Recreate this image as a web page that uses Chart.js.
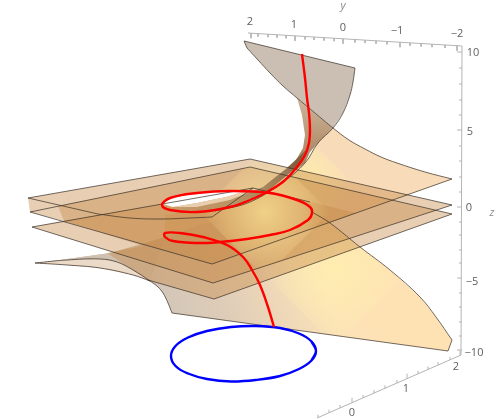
<!DOCTYPE html>
<html>
<head>
<meta charset="utf-8">
<style>
  html, body { margin: 0; padding: 0; background: #fff; }
  canvas { display: block; }
</style>
<script src="https://cdn.jsdelivr.net/npm/chart.js@4"></script>
</head>
<body>
<canvas id="chart" width="501" height="419"></canvas>
<script>
// outlines, in projected picture units
const surfaceBack = [[244,41],[355,68],[353,82],[350,95],[343,113],[333,128],[315,113],[297,98],[283,86],[270,73],[258,60],[247,48]];
const surfaceNeck = [[297,98],[315,113],[333,128],[318,143],[310,152],[305,163],[297,170],[287,168],[296,160],[303,148],[305,135],[302,115]];
const surfaceUpper = [[333,128],[349,140],[365,149],[381,157],[397,163],[425,172],[452,179],[365,210],[300,234],[250,252],[212,264],[190,258],[165,240],[165,215],[250,202],[283,182],[305,163],[318,143]];
const surfaceLower = [[452,340],[436,317],[420,297],[390,270],[360,247],[330,223],[312,212],[300,200],[230,215],[165,237],[110,253],[60,260],[35,263],[67,265],[100,268],[133,275],[150,281],[158,287],[163,293],[168,303],[172,313],[448,351]];
const lobeLight = [[35,263],[60,260],[100,259],[117,262],[133,270],[150,281],[133,275],[100,268],[67,265]];
const lobeTan = [[35,263],[60,260],[110,253],[150,243],[165,237],[150,281],[141,275],[133,270],[117,262],[100,259],[67,260]];
const planeOne = [[28,198],[250,159],[452,205],[213,283],[32,227],[64,221],[30,212]];
const planeTwo = [[58,206],[250,167],[452,214],[214,299],[148,280],[107,253],[143,246],[64,221]];
const planeThree = [[64,221],[253,188],[356,213],[212,264]];
const holeSliver = [[163,204],[172,198],[197,193],[230,191],[246,191],[226,197],[197,203],[173,207]];
const holeLight = [[173,207],[197,203],[226,197],[246,191],[263,187],[230,200],[197,207]];
const band = [[306,150],[297,167],[267,192],[230,207],[197,212],[170,210],[173,207],[197,207],[230,200],[263,187],[287,168]];
const glowUpper = [[300,130],[355,185],[300,240],[245,185]];
const glowLower = [[335,195],[410,270],[335,345],[260,270]];
const glowCentre = [[265,147],[330,212],[265,277],[200,212]];

const edgeTopLeft = [[28,198],[250,159],[452,205]];
const edgeMidBack = [[30,212],[250,167],[452,214]];
const edgeLowBack = [[32,227],[253,188],[310,202]];
const edgeInner = [[28,198],[98,214]];
const edgeInnerCurve = [[98,214],[130,218],[160,219],[190,218],[212,217]];
const edgeInnerRise = [[212,217],[253,188]];
const edgeFrontOne = [[30,212],[212,264],[452,179]];
const edgeFrontTwo = [[32,227],[213,283],[452,205]];
const edgeFrontThree = [[148,280],[214,299],[452,214]];
const edgeUpperCurve = [[247,48],[258,60],[270,73],[283,86],[297,98],[315,113],[333,128],[349,140],[365,149],[381,157],[397,163],[425,172],[452,179]];
const edgeUpperTip = [[244,41],[247,48]];
const edgeBackTop = [[244,41],[355,68]];
const edgeBackRight = [[355,68],[353,82],[350,95],[343,113],[333,128],[318,143],[305,163],[283,182],[250,202],[215,211]];
const edgeLowerRight = [[312,212],[330,223],[360,247],[390,270],[420,297],[436,317],[452,340]];
const edgeLowerBase = [[452,340],[448,351],[172,313]];
const edgeLobeUpper = [[172,313],[168,303],[163,293],[158,287],[150,281],[133,270],[117,262],[100,259],[67,260],[35,263]];
const edgeLobeLower = [[35,263],[67,265],[100,268],[133,275],[150,281]];

const redCurve = [[302,54],[305,78],[307,98],[309,113],[310,130],[309,143],[305,155],[297,167],[284,181],[267,192],[250,200],[230,207],[197,212],[170,210],[162,205],[170,198],[197,193],[230,191],[270,193],[297,200],[310,207],[312,213],[308,220],[290,230],[270,235],[247,239],[220,242],[197,243],[173,241],[165,237],[165,233],[180,233],[203,237],[227,245],[243,257],[252,270],[260,285],[268,307],[274,327]];
const blueCurve = [[311.5,360.5],[316,351],[311.5,341.5],[299,333.5],[280,328],[256,326],[231,327],[207,331],[188,337.5],[175.5,346],[171,356],[175.5,366],[188,373.5],[207,379],[231,381.5],[256,380],[280,376],[299,369],[311.5,360.5],[316,351],[311.5,341.5]];

// axes
const topAxis = [[248,33],[462,46]];
const rightAxis = [[462,46],[461,355]];
const bottomAxis = [[461,355],[317,418]];
const topMajorX = [251,295,343,400,457];
const topMinorX = [258,268,277,286,305,314,324,334,355,365,376,387,410,421,432,445];
const rightMajorY = [52,130,207,278,350];
const rightMinorY = [68,84,100,115,146,161,177,192,222,235,250,263,293,307,322,336];
const bottomMajorX = [460,407,352];
const bottomMinorX = [450,438,428,418,397,385,374,363,340,329,318];

const topLabels = [['2',250,22],['1',294,25],['0',343,28],['\u22121',397,31],['\u22122',457,34]];
const rightLabels = [['10',473,53],['5',470,132],['0',469,208],['\u22125',472,282],['\u221210',474,353]];
const bottomLabels = [['2',456,367],['1',406,389],['0',352,413]];
const axisNames = [['y',343,6],['z',492,213]];

const toPoints = (list) => list.map(([x, y]) => ({ x, y }));

function axisY(axis, x) {
  const [[x0, y0], [x1, y1]] = axis;
  return y0 + (x - x0) * (y1 - y0) / (x1 - x0);
}

function tickMarks(axis, majors, minors, horizontal, direction) {
  const points = [];
  const add = (pos, len) => {
    if (horizontal) {
      const y = axisY(axis, pos);
      points.push({ x: pos, y }, { x: pos, y: y + direction * len }, { x: NaN, y: NaN });
    } else {
      points.push({ x: axis[0][0], y: pos }, { x: axis[0][0] + direction * len, y: pos }, { x: NaN, y: NaN });
    }
  };
  majors.forEach((pos) => add(pos, 5));
  minors.forEach((pos) => add(pos, 3));
  return points;
}

function linear(ctx, x0, y0, x1, y1, stops) {
  const g = ctx.createLinearGradient(x0, y0, x1, y1);
  stops.forEach(([at, color]) => g.addColorStop(at, color));
  return g;
}

function radial(ctx, x, y, r, stops) {
  const g = ctx.createRadialGradient(x, y, 0, x, y, r);
  stops.forEach(([at, color]) => g.addColorStop(at, color));
  return g;
}

const PLANE_FILL = 'rgba(197,135,67,0.4)';
const EDGE = 'rgba(60,50,40,0.72)';
const AXIS = '#b4b4b4';

function area(list, fill, clipList) {
  return { data: toPoints(list), polygon: fill, clipList, showLine: false, pointRadius: 0 };
}

function stroke(data, color, width, tension = 0) {
  return { data, borderColor: color, borderWidth: width, showLine: true, pointRadius: 0, tension, spanGaps: false };
}

const layers = [
  stroke(toPoints(topAxis), AXIS, 1),
  stroke(toPoints(rightAxis), AXIS, 1),
  stroke(toPoints(bottomAxis), AXIS, 1),
  stroke(tickMarks(topAxis, topMajorX, topMinorX, true, 1), AXIS, 1),
  stroke(tickMarks(rightAxis, rightMajorY, rightMinorY, false, -1), AXIS, 1),
  stroke(tickMarks(bottomAxis, bottomMajorX, bottomMinorX, true, -1), AXIS, 1),
  area(surfaceBack, 'rgb(203,191,180)'),
  area(surfaceNeck, (ctx) => linear(ctx, 0, 100, 0, 170, [[0, 'rgb(205,180,155)'], [1, 'rgb(165,125,85)']])),
  area(surfaceUpper, 'rgb(248,220,185)'),
  area(glowUpper, (ctx) => radial(ctx, 300, 185, 55, [[0, 'rgba(255,238,170,1)'], [1, 'rgba(255,238,170,0)']]), surfaceUpper),
  area(surfaceLower, (ctx) => linear(ctx, 170, 345, 360, 270, [[0, 'rgb(209,197,184)'], [0.3, 'rgb(222,204,184)'], [0.8, 'rgb(252,226,184)'], [1, 'rgb(254,226,180)']])),
  area(glowLower, (ctx) => radial(ctx, 335, 270, 75, [[0, 'rgba(255,238,175,0.9)'], [1, 'rgba(255,238,175,0)']]), surfaceLower),
  area(lobeTan, 'rgb(207,192,176)'),
  area(lobeLight, 'rgb(236,218,200)'),
  area(planeOne, PLANE_FILL),
  area(planeTwo, PLANE_FILL),
  area(planeThree, PLANE_FILL),
  area(glowCentre, (ctx) => radial(ctx, 265, 212, 65, [[0, 'rgba(250,228,150,0.75)'], [0.55, 'rgba(248,222,150,0.4)'], [1, 'rgba(248,222,150,0)']]), planeOne),
  area(holeSliver, '#ffffff'),
  area(holeLight, 'rgb(232,206,175)'),
  area(band, (ctx) => linear(ctx, 300, 0, 170, 0, [[0, 'rgba(115,85,55,0.8)'], [1, 'rgba(190,150,105,0.35)']])),
  stroke(toPoints(edgeTopLeft), EDGE, 1),
  stroke(toPoints(edgeMidBack), EDGE, 1),
  stroke(toPoints(edgeLowBack), EDGE, 1),
  stroke(toPoints(edgeInner), EDGE, 1),
  stroke(toPoints(edgeInnerCurve), EDGE, 1, 0.4),
  stroke(toPoints(edgeInnerRise), EDGE, 1),
  stroke(toPoints(edgeFrontOne), EDGE, 1),
  stroke(toPoints(edgeFrontTwo), EDGE, 1),
  stroke(toPoints(edgeFrontThree), EDGE, 1),
  stroke(toPoints(edgeUpperTip), EDGE, 1),
  stroke(toPoints(edgeUpperCurve), EDGE, 1, 0.4),
  stroke(toPoints(edgeBackTop), EDGE, 1),
  stroke(toPoints(edgeBackRight), EDGE, 1, 0.4),
  stroke(toPoints(edgeLowerRight), EDGE, 1, 0.4),
  stroke(toPoints(edgeLowerBase), EDGE, 1),
  stroke(toPoints(edgeLobeUpper), EDGE, 1, 0.4),
  stroke(toPoints(edgeLobeLower), EDGE, 1, 0.4),
  stroke(toPoints(blueCurve), '#0000ff', 2.4, 0.4),
  stroke(toPoints(redCurve), '#ff0000', 2.4, 0.4),
];

// chart.js draws low order last, so paint order follows the array
layers.forEach((layer, index) => { layer.order = layers.length - index; });

function tracePath(ctx, points) {
  ctx.beginPath();
  points.forEach((point, i) => {
    if (i === 0) {
      ctx.moveTo(point.x, point.y);
    } else {
      ctx.lineTo(point.x, point.y);
    }
  });
  ctx.closePath();
}

const polygonFill = {
  id: 'polygonFill',
  beforeDatasetDraw(chart, args) {
    const dataset = chart.data.datasets[args.index];
    if (!dataset.polygon) {
      return;
    }
    const { ctx, scales } = chart;
    ctx.save();
    if (dataset.clipList) {
      tracePath(ctx, dataset.clipList.map(([x, y]) => ({
        x: scales.x.getPixelForValue(x),
        y: scales.y.getPixelForValue(y),
      })));
      ctx.clip();
    }
    tracePath(ctx, args.meta.data);
    ctx.fillStyle = typeof dataset.polygon === 'function' ? dataset.polygon(ctx) : dataset.polygon;
    ctx.fill();
    ctx.restore();
  },
};

const axisText = {
  id: 'axisText',
  afterDatasetsDraw(chart) {
    const { ctx, scales } = chart;
    const put = (list, color, font) => {
      ctx.fillStyle = color;
      ctx.font = font;
      list.forEach(([text, x, y]) => {
        ctx.fillText(text, scales.x.getPixelForValue(x), scales.y.getPixelForValue(y));
      });
    };
    ctx.save();
    ctx.textAlign = 'center';
    ctx.textBaseline = 'middle';
    put(topLabels, '#606060', '11px "Open Sans"');
    put(rightLabels, '#606060', '11px "Open Sans"');
    put(bottomLabels, '#606060', '11px "Open Sans"');
    put(axisNames, '#8a8a8a', 'italic 11px "Open Sans"');
    ctx.restore();
  },
};

new Chart(document.getElementById('chart'), {
  type: 'scatter',
  data: { datasets: layers },
  options: {
    responsive: false,
    animation: false,
    layout: { padding: 0 },
    plugins: { legend: { display: false }, tooltip: { enabled: false } },
    scales: {
      x: { type: 'linear', min: 0, max: 501, display: false },
      y: { type: 'linear', min: 0, max: 419, reverse: true, display: false },
    },
  },
  plugins: [polygonFill, axisText],
});
</script>
</body>
</html>
